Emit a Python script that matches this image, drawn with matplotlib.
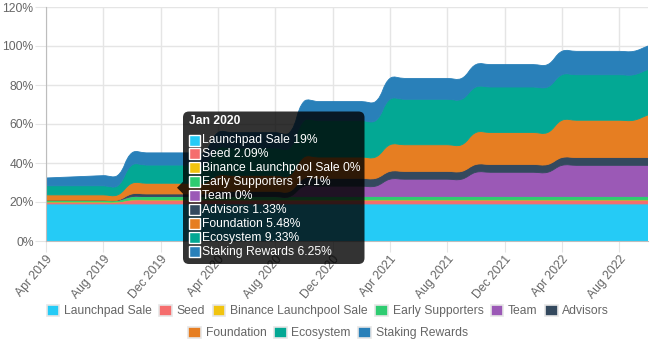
import matplotlib
matplotlib.use('Agg')
import matplotlib.pyplot as plt
from matplotlib.patches import FancyBboxPatch, Rectangle, Polygon, PathPatch
from matplotlib.path import Path
import numpy as np
import pandas as pd

plt.rcParams['font.family'] = ['Liberation Sans', 'DejaVu Sans']

# monthly labels, Apr 2019 .. Oct 2022
months = pd.date_range('2019-04-01', '2022-10-01', freq='MS').strftime('%b %Y').tolist()

# unlocked share of total supply (%), one value per month
launchpad = [19] * 43
seed = [1.05] * 6 + [2.09] * 37
binance = [0] * 43
early = [0.86] * 6 + [1.71] * 37
team = [0] * 18 + [5.33] * 6 + [8.89] * 6 + [12.44] * 6 + [16] * 7
advisors = [0] * 6 + [1.33] * 6 + [2.67] * 6 + [4] * 25
foundation = ([2.73] * 6 + [5.48] * 6 + [8.2] * 6 + [10.93] * 6 + [13.66] * 6
              + [16.4] * 6 + [19.13] * 6 + [21.86])
ecosystem = [4.67] * 6 + [9.33] * 6 + [14.0] * 6 + [18.66] * 6 + [23.33] * 19
staking = ([4.0, 4.3, 4.6, 4.9, 5.2, 5.3] + [6.25] * 6 + [7.9] * 6 + [9.8] * 6
           + [10.7] * 6 + [11.5] * 6 + [12] * 7)

names = ['Launchpad Sale', 'Seed', 'Binance Launchpool Sale', 'Early Supporters', 'Team',
         'Advisors', 'Foundation', 'Ecosystem', 'Staking Rewards']
series = [launchpad, seed, binance, early, team, advisors, foundation, ecosystem, staking]
colors = ['#25cbf6', '#f56d6d', '#f1c40f', '#2ecc71', '#9b59b6',
          '#34495e', '#e67e22', '#03a894', '#2980b9']

tooltip_idx = months.index('Jan 2020')

W, H = 656, 350
fig = plt.figure(figsize=(W / 100, H / 100), dpi=100)
ax = fig.add_axes([46 / W, 1 - 241 / H, (648 - 46) / W, (241 - 7) / H])
ax.set_xlim(0, len(months) - 1)
ax.set_ylim(0, 120)


def spline_ctrl(pts, t=0.4):
    # bezier control points like a tensioned line chart, computed in pixel space
    n = len(pts)
    before = np.zeros_like(pts)
    after = np.zeros_like(pts)
    for i in range(n):
        p0 = pts[max(i - 1, 0)]
        p1 = pts[i]
        p2 = pts[min(i + 1, n - 1)]
        d01 = np.hypot(*(p1 - p0))
        d12 = np.hypot(*(p2 - p1))
        tot = d01 + d12
        s01 = d01 / tot if tot else 0
        s12 = d12 / tot if tot else 0
        before[i] = p1 - t * s01 * (p2 - p0)
        after[i] = p1 + t * s12 * (p2 - p0)
    return before, after


def curve_verts(xs, ys):
    pts = ax.transData.transform(np.column_stack([xs, ys]))
    before, after = spline_ctrl(pts)
    inv = ax.transData.inverted()
    pts, before, after = inv.transform(pts), inv.transform(before), inv.transform(after)
    verts = [pts[0]]
    for i in range(len(pts) - 1):
        verts += [after[i], before[i + 1], pts[i + 1]]
    return verts


x = np.arange(len(months))
base = np.zeros(len(months))
for vals, c in zip(series, colors):
    top = base + np.array(vals, dtype=float)
    up = curve_verts(x, top)
    down = curve_verts(x[::-1], base[::-1])
    verts = up + [down[0]] + down[1:] + [up[0]]
    codes = ([Path.MOVETO] + [Path.CURVE4] * (len(up) - 1) + [Path.LINETO]
             + [Path.CURVE4] * (len(down) - 1) + [Path.CLOSEPOLY])
    ax.add_patch(PathPatch(Path(verts, codes), facecolor=c, edgecolor=c, lw=0.6, zorder=2))
    base = top

ax.set_yticks(range(0, 121, 20))
ax.set_yticklabels([f'{v}%' for v in range(0, 121, 20)])
ax.set_xticks(x[::4])
ax.set_xticklabels(months[::4])
for lab in ax.get_xticklabels():
    lab.set_rotation(50)
    lab.set_ha('right')
    lab.set_va('top')
    lab.set_rotation_mode('anchor')

ax.grid(color='#e5e5e5', lw=1)
ax.set_axisbelow(True)
for s in ['top', 'right']:
    ax.spines[s].set_visible(False)
for s in ['left', 'bottom']:
    ax.spines[s].set_color('#bdbdbd')
ax.tick_params(length=8, color='#e5e5e5', labelcolor='#666666', labelsize=8.7, pad=1)

# legend, two centred rows
handles = [Rectangle((0, 0), 1, 1, facecolor=c, edgecolor='#e6e6e6', lw=1.2) for c in colors]
kw = dict(loc='center', frameon=False, fontsize=8.7, handlelength=1.05, handleheight=1.1,
          handletextpad=0.4, columnspacing=0.6, labelcolor='#666666', borderpad=0)
fig.legend(handles[:6], names[:6], bbox_to_anchor=(0.5, 1 - 311 / H), ncol=6, **kw)
fig.legend(handles[6:], names[6:], bbox_to_anchor=(0.5, 1 - 333 / H), ncol=3, **kw)

# hover tooltip for Jan 2020
ov = fig.add_axes([0, 0, 1, 1], zorder=10)
ov.set_xlim(0, W)
ov.set_ylim(H, 0)
ov.axis('off')
tip_x = ax.transData.transform((tooltip_idx, 0))[0]
bx, by, bw, bh = 183, 111.5, 181.5, 152.5
cy = by + bh / 2
ov.add_patch(FancyBboxPatch((bx, by), bw, bh, boxstyle='round,pad=0,rounding_size=6',
                            fc=(0, 0, 0, 0.8), ec='none'))
ov.add_patch(Polygon([(bx, cy - 6), (tip_x + 2, cy), (bx, cy + 6)], closed=True,
                     fc=(0, 0, 0, 0.8), ec='none'))
ov.text(bx + 6, by + 10, months[tooltip_idx], color='white', fontweight='bold',
        fontsize=8.7, va='center')
for i, (name, vals, c) in enumerate(zip(names, series, colors)):
    ry = 140 + i * 13.95
    ov.add_patch(Rectangle((bx + 5.5, ry - 5.5), 11, 11, fc=c, ec='white', lw=1))
    ov.text(bx + 19.5, ry, f'{name} {vals[tooltip_idx]:g}%', color='white',
            fontsize=8.7, va='center')

fig.savefig('out.png', dpi=100)
